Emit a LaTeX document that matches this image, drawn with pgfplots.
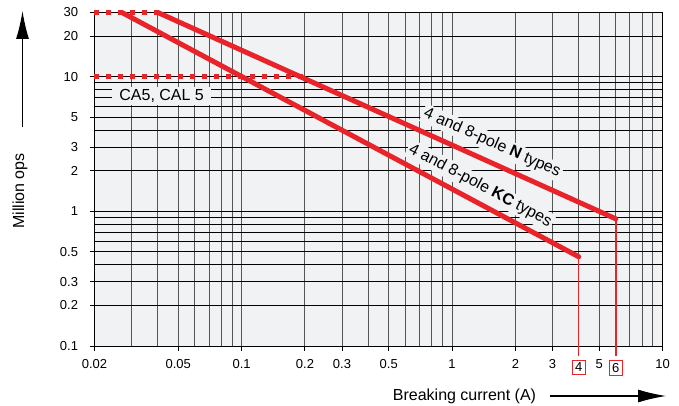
\documentclass[border=0pt]{standalone}
\usepackage{pgfplots}
\pgfplotsset{compat=1.18}
\usetikzlibrary{arrows.meta}
\usepackage{fontspec}
\setmainfont{Liberation Sans}
\definecolor{bgc}{RGB}{241,242,244}
\definecolor{myred}{RGB}{233,35,42}
\definecolor{vgrid}{RGB}{85,85,85}
\setlength{\fboxsep}{2.5pt}
\setlength{\fboxrule}{0.9pt}
\begin{document}
\begin{tikzpicture}
\useasboundingbox (-94.5pt,-60pt) rectangle (584.5pt,346pt);
\begin{axis}[
  at={(0pt,0pt)}, anchor=south west,
  scale only axis, width=568pt, height=333.5pt,
  xmode=log, ymode=log,
  xmin=0.02, xmax=10, ymin=0.1, ymax=30,
  axis background/.style={fill=bgc},
  clip=false,
  tick pos=left, tick align=outside,
  major tick length=5pt, minor tick length=0pt,
  xtick={0.02,0.05,0.1,0.2,0.3,0.5,1,2,3,4,5,6,10},
  xticklabels={0.02,0.05,0.1,0.2,0.3,0.5,1,2,3,\fcolorbox{myred}{white}{4},5,\fcolorbox{myred}{white}{6},10},
  minor xtick={0.03,0.04,0.06,0.07,0.08,0.09,0.4,0.6,0.7,0.8,0.9,7,8,9},
  ytick={0.1,0.2,0.3,0.5,1,2,3,5,10,20,30},
  yticklabels={0.1,0.2,0.3,0.5,1,2,3,5,10,20,30},
  minor ytick={0.4,0.6,0.7,0.8,0.9,4,6,7,8,9},
  grid=both,
  major x grid style={vgrid, line width=0.9pt},
  minor x grid style={vgrid, line width=0.9pt},
  major y grid style={black, line width=0.9pt},
  minor y grid style={black, line width=0.9pt},
  ticklabel style={font=\fontsize{13}{15}\selectfont},
  xticklabel style={yshift=-5pt},
  yticklabel style={xshift=-8pt},
  axis line style={black, line width=0.9pt},
  tick style={black, line width=0.9pt},
]
\addplot[myred, line width=5pt, dash pattern=on 5pt off 7pt] coordinates {(0.02,30) (0.04,30)};
\addplot[myred, line width=5pt, dash pattern=on 5pt off 7pt] coordinates {(0.02,10) (0.2,10)};
\addplot[myred, line width=1.2pt] coordinates {(4.0,0.084) (4.0,0.46)};
\addplot[myred, line width=1.2pt] coordinates {(6.01,0.084) (6.01,0.88)};
\addplot[myred, line width=5pt, line cap=round] coordinates {(0.04,30) (6,0.88)};
\addplot[myred, line width=5pt, line cap=round] coordinates {(0.027,30) (4,0.46)};
\node[rotate=-24, fill=bgc, inner sep=2pt, font=\fontsize{16}{18}\selectfont] at (axis cs:1.55,3.22) {4 and 8-pole \textbf{N} types};
\node[rotate=-28, fill=bgc, inner sep=2pt, font=\fontsize{16}{18}\selectfont] at (axis cs:1.36,1.55) {4 and 8-pole \textbf{KC} types};
\node[fill=bgc, inner xsep=7pt, inner ysep=2pt, font=\fontsize{16}{18}\selectfont] at (axis cs:0.0417,7.2) {CA5, CAL 5};
\end{axis}
\node[rotate=90, font=\fontsize{16}{18}\selectfont] at (-74.5pt,155pt) {Million ops};
\draw[line width=1.2pt, -{Latex[length=28pt,width=13pt]}] (-72pt,219pt) -- (-72pt,335pt);
\node[font=\fontsize{16}{18}\selectfont] at (370pt,-50pt) {Breaking current (A)};
\draw[line width=1.2pt, -{Latex[length=28pt,width=13pt]}] (455.5pt,-50pt) -- (571.5pt,-50pt);
\end{tikzpicture}
\end{document}
